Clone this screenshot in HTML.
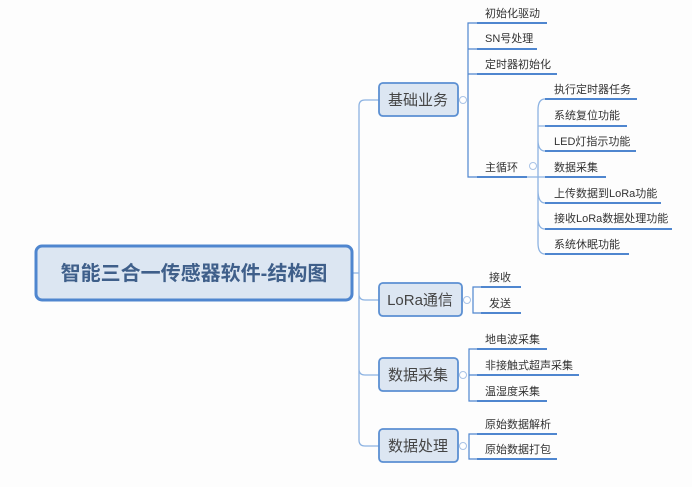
<!DOCTYPE html>
<html><head><meta charset="utf-8"><style>
html,body{margin:0;padding:0;background:#fff;width:692px;height:487px;overflow:hidden}
svg{display:block}
text{font-family:"Liberation Sans","Noto Sans CJK SC",sans-serif;fill:#333;font-size:11px}
.b{font-size:15px;fill:#444;text-anchor:middle}
.u{stroke:#4f86cf;stroke-width:2;fill:none}
.l{stroke:#8db3e2;stroke-width:1.3;fill:none}
.k{stroke:#4f86cf;stroke-width:1.2;fill:none}
.box{fill:#dce6f2;stroke:#5b8fd2;stroke-width:1.8}
.c{fill:#fff;stroke:#a9c3e6;stroke-width:1}
</style></head><body>
<svg width="692" height="487" viewBox="0 0 692 487">
<rect x="0" y="0" width="692" height="487" fill="#fdfdfd"/>
<!-- trunk -->
<path class="l" d="M353,273 H359 M379,100 H365 Q359,100 359,106 V440 Q359,446 365,446 H379 M359,294 Q359,300 365,300 H379 M359,369 Q359,375 365,375 H379"/>
<!-- root -->
<rect x="36" y="246" width="316" height="54" rx="6" fill="#dce6f2" stroke="#4f86cf" stroke-width="3"/>
<text x="194" y="280" style="font-size:20px;font-weight:bold;fill:#3f5f8a;text-anchor:middle">智能三合一传感器软件-结构图</text>
<!-- L1 boxes -->
<rect class="box" x="379" y="83" width="79" height="33" rx="4"/><text class="b" x="418" y="105">基础业务</text>
<rect class="box" x="379" y="283" width="83" height="33" rx="4"/><text class="b" x="420" y="305">LoRa通信</text>
<rect class="box" x="379" y="358" width="79" height="33" rx="4"/><text class="b" x="418" y="380">数据采集</text>
<rect class="box" x="379" y="429" width="79" height="33" rx="4"/><text class="b" x="418" y="451">数据处理</text>
<!-- brackets -->
<path class="k" d="M477,23 H468 V177 H477 M468,49 H477 M468,74 H477"/>
<path class="k" d="M481,287 H473 V313 H481"/>
<path class="k" d="M477,349 H469 V401 H477 M469,375 H477"/>
<path class="k" d="M477,434 H469 V459 H477"/>
<circle class="c" cx="463" cy="100" r="3.5"/>
<circle class="c" cx="467" cy="300" r="3.5"/>
<circle class="c" cx="463" cy="375" r="3.5"/>
<circle class="c" cx="463" cy="446" r="3.5"/>
<circle class="c" cx="533" cy="166" r="3.5"/>
<!-- L2 underlines -->
<path class="u" d="M477,23H547 M477,49H537 M477,74H557 M477,177H527 M481,287H521 M481,313H521 M477,349H547 M477,375H579 M477,401H547 M477,434H557 M477,459H557"/>
<text x="485" y="17">初始化驱动</text>
<text x="485" y="42">SN号处理</text>
<text x="485" y="68">定时器初始化</text>
<text x="485" y="171">主循环</text>
<text x="489" y="281">接收</text>
<text x="489" y="307">发送</text>
<text x="485" y="343">地电波采集</text>
<text x="485" y="369">非接触式超声采集</text>
<text x="485" y="395">温湿度采集</text>
<text x="485" y="428">原始数据解析</text>
<text x="485" y="453">原始数据打包</text>
<!-- main loop children -->
<path class="l" d="M527,177 H545 M545,99 Q538,99 538,110 V243 Q538,254 545,254 M538,126 Q538,126 545,126 M538,140 Q538,151 545,151 M538,190 Q538,203 545,203 M538,218 Q538,229 545,229"/>
<path class="u" d="M545,99H637 M545,126H627 M545,151H636 M545,177H606 M545,203H661 M545,229H672 M545,254H629"/>
<text x="554" y="93">执行定时器任务</text>
<text x="554" y="119">系统复位功能</text>
<text x="554" y="145">LED灯指示功能</text>
<text x="554" y="171">数据采集</text>
<text x="554" y="197">上传数据到LoRa功能</text>
<text x="554" y="222">接收LoRa数据处理功能</text>
<text x="554" y="248">系统休眠功能</text>
</svg>
</body></html>
